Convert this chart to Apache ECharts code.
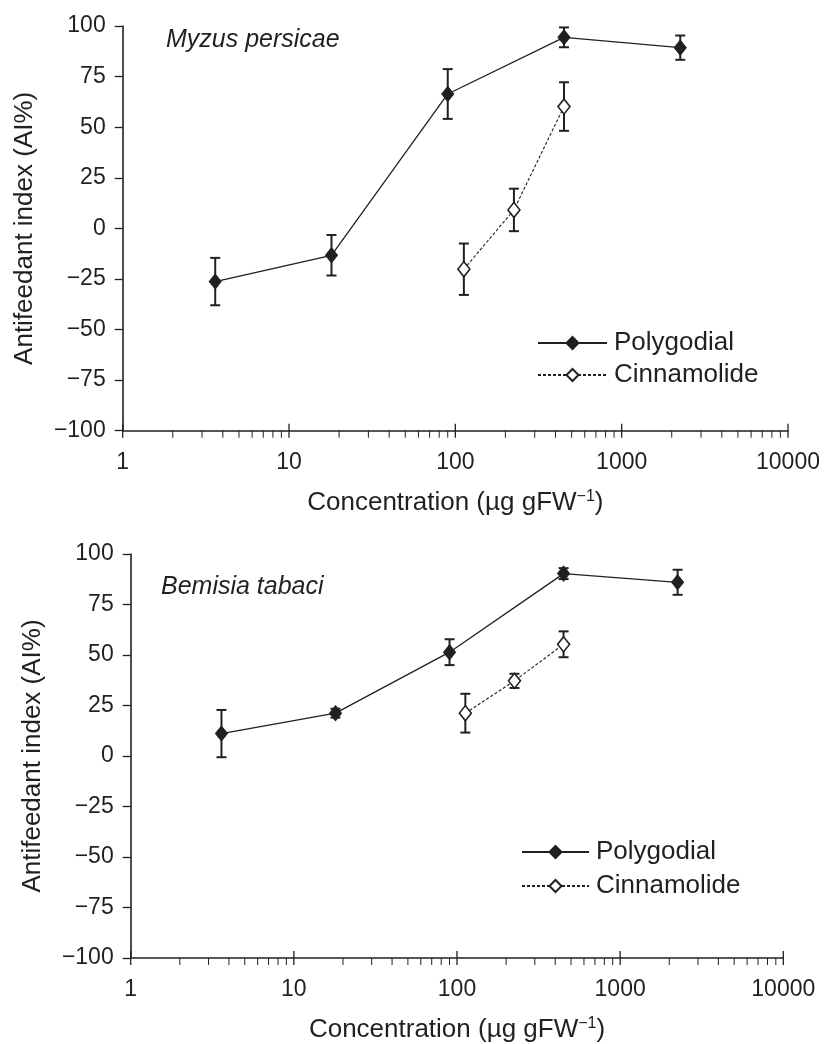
<!DOCTYPE html>
<html>
<head>
<meta charset="utf-8">
<script src="https://cdn.jsdelivr.net/npm/echarts@6/dist/echarts.min.js"></script>
<style>
html,body{margin:0;padding:0;background:#fff;}
#chart{width:828px;height:1044px;}
</style>
</head>
<body>
<div id="chart"></div>
<script>
// ---- data ----
const concPolygodial = [3.6, 18, 90, 450, 2250];
const concCinnamolide = [112.5, 225, 450];

const myzusPolygodial = [-26.3, -13.3, 66.4, 94.4, 89.3];
const myzusPolygodialErr = [11.7, 10, 12.3, 4.9, 6];
const myzusCinnamolide = [-20.2, 9.1, 60.2];
const myzusCinnamolideErr = [12.7, 10.5, 12];

const bemisiaPolygodial = [11.1, 21.2, 51.4, 90.3, 86.0];
const bemisiaPolygodialErr = [11.7, 2.2, 6.4, 2.7, 6.2];
const bemisiaCinnamolide = [21.2, 37.2, 55.3];
const bemisiaCinnamolideErr = [9.6, 3.5, 6.4];

const xMajorTicks = [1, 10, 100, 1000, 10000];
const xMinorTicks = [2,3,4,5,6,7,8,9, 20,30,40,50,60,70,80,90, 200,300,400,500,600,700,800,900, 2000,3000,4000,5000,6000,7000,8000,9000];
const yTicks = [-100, -75, -50, -25, 0, 25, 50, 75, 100];

const panelTitles = ['Myzus persicae', 'Bemisia tabaci'];
const seriesNames = ['Polygodial', 'Cinnamolide'];
const xTitle = 'Concentration (µg gFW{sup|−1})';
const yTitle = 'Antifeedant index (AI%)';

// ---- style ----
const INK = '#231f20';
const FONT = '"Liberation Sans", Arial, Helvetica, sans-serif';

function pairs(xs, ys) { return xs.map((x, i) => [x, ys[i]]); }
function triples(xs, ys, es) { return xs.map((x, i) => [x, ys[i], es[i]]); }

function errorSeries(idx, data) {
  return {
    type: 'custom', xAxisIndex: idx, yAxisIndex: idx, z: 1, silent: true,
    data: data,
    encode: { x: 0, y: 1 },
    renderItem: function (params, api) {
      const x = api.value(0), y = api.value(1), e = api.value(2);
      const hi = api.coord([x, y + e]);
      const lo = api.coord([x, y - e]);
      const cw = 5;
      const st = { stroke: INK, lineWidth: 2 };
      return {
        type: 'group',
        children: [
          { type: 'line', shape: { x1: hi[0], y1: hi[1], x2: lo[0], y2: lo[1] }, style: st },
          { type: 'line', shape: { x1: hi[0] - cw, y1: hi[1], x2: hi[0] + cw, y2: hi[1] }, style: st },
          { type: 'line', shape: { x1: lo[0] - cw, y1: lo[1], x2: lo[0] + cw, y2: lo[1] }, style: st }
        ]
      };
    }
  };
}

function tickSeries(idx, values, major) {
  return {
    type: 'custom', xAxisIndex: idx, yAxisIndex: idx, z: 5, silent: true, clip: false,
    data: values.map(v => [v, -100]),
    encode: { x: 0, y: 1 },
    renderItem: function (params, api) {
      const p = api.coord([api.value(0), -100]);
      return {
        type: 'line',
        shape: { x1: p[0], y1: major ? p[1] - 7 : p[1], x2: p[0], y2: p[1] + 7 },
        style: { stroke: INK, lineWidth: major ? 1.3 : 1 }
      };
    }
  };
}

function lineSeries(idx, name, data, filled) {
  return {
    type: 'line', name: name, xAxisIndex: idx, yAxisIndex: idx, z: 3,
    data: data,
    symbol: 'diamond', symbolSize: [12, 15], showSymbol: true,
    lineStyle: filled ? { color: INK, width: 1.3, type: 'solid' }
                      : { color: INK, width: 1.1, type: [3, 2] },
    itemStyle: filled ? { color: INK, borderColor: INK, borderWidth: 1 }
                      : { color: '#ffffff', borderColor: INK, borderWidth: 1.6 },
    emphasis: { disabled: true },
    animation: false
  };
}

const grids = [
  { left: 122.7, top: 26, width: 665.3, height: 404.7 },
  { left: 130.7, top: 554, width: 652.6, height: 405 }
];

const xAxes = grids.map((g, i) => ({
  type: 'log', logBase: 10, gridIndex: i, min: 1, max: 10000,
  axisLine: { onZero: false, lineStyle: { color: INK, width: 1.6 } },
  axisTick: { show: false },
  minorTick: { show: false },
  splitLine: { show: false },
  axisLabel: { color: INK, fontSize: 23, fontFamily: FONT, margin: 20,
    formatter: v => String(v) },
  name: xTitle, nameLocation: 'middle', nameGap: 58,
  nameTextStyle: { color: INK, fontSize: 26, fontFamily: FONT,
    rich: { sup: { fontSize: 16, color: INK, fontFamily: FONT, verticalAlign: 'top', padding: [0, 0, 12, 0] } } }
}));

const yAxes = grids.map((g, i) => ({
  type: 'value', gridIndex: i, min: -100, max: 100, interval: 25,
  axisLine: { show: true, onZero: false, lineStyle: { color: INK, width: 1.6 } },
  axisTick: { show: true, inside: false, length: 8, lineStyle: { color: INK, width: 1.3 } },
  splitLine: { show: false },
  axisLabel: { color: INK, fontSize: 23, fontFamily: FONT, margin: 17,
    formatter: v => (v < 0 ? '\u2212' + Math.abs(v) : String(v)) },
  name: yTitle, nameLocation: 'middle', nameGap: 85, nameRotate: 90,
  nameTextStyle: { color: INK, fontSize: 26, fontFamily: FONT }
}));

const option = {
  backgroundColor: '#ffffff',
  animation: false,
  textStyle: { fontFamily: FONT },
  grid: grids,
  xAxis: xAxes,
  yAxis: yAxes,
  title: [
    { text: panelTitles[0], left: 166, top: 28, padding: 0,
      textStyle: { color: INK, fontSize: 25, fontStyle: 'italic', fontWeight: 'normal', fontFamily: FONT } },
    { text: panelTitles[1], left: 161, top: 575, padding: 0,
      textStyle: { color: INK, fontSize: 25, fontStyle: 'italic', fontWeight: 'normal', fontFamily: FONT } }
  ],
  legend: [
    { data: seriesNames, orient: 'vertical', left: 537, top: 330, padding: 0,
      itemWidth: 69, itemHeight: 15, itemGap: 6, selectedMode: false,
      textStyle: { color: INK, fontSize: 26, fontFamily: FONT, padding: [0, 0, 0, 2] } },
    { data: seriesNames, orient: 'vertical', left: 521, top: 839, padding: 0,
      itemWidth: 67, itemHeight: 15, itemGap: 8, selectedMode: false,
      textStyle: { color: INK, fontSize: 26, fontFamily: FONT, padding: [0, 0, 0, 2] } }
  ],
  series: [
    tickSeries(0, xMajorTicks, true),
    tickSeries(0, xMinorTicks, false),
    tickSeries(1, xMajorTicks, true),
    tickSeries(1, xMinorTicks, false),
    errorSeries(0, triples(concPolygodial, myzusPolygodial, myzusPolygodialErr)),
    errorSeries(0, triples(concCinnamolide, myzusCinnamolide, myzusCinnamolideErr)),
    errorSeries(1, triples(concPolygodial, bemisiaPolygodial, bemisiaPolygodialErr)),
    errorSeries(1, triples(concCinnamolide, bemisiaCinnamolide, bemisiaCinnamolideErr)),
    lineSeries(0, seriesNames[0], pairs(concPolygodial, myzusPolygodial), true),
    lineSeries(0, seriesNames[1], pairs(concCinnamolide, myzusCinnamolide), false),
    lineSeries(1, seriesNames[0], pairs(concPolygodial, bemisiaPolygodial), true),
    lineSeries(1, seriesNames[1], pairs(concCinnamolide, bemisiaCinnamolide), false)
  ]
};

const chart = echarts.init(document.getElementById('chart'), null, { renderer: 'canvas' });
chart.setOption(option);
</script>
</body>
</html>
